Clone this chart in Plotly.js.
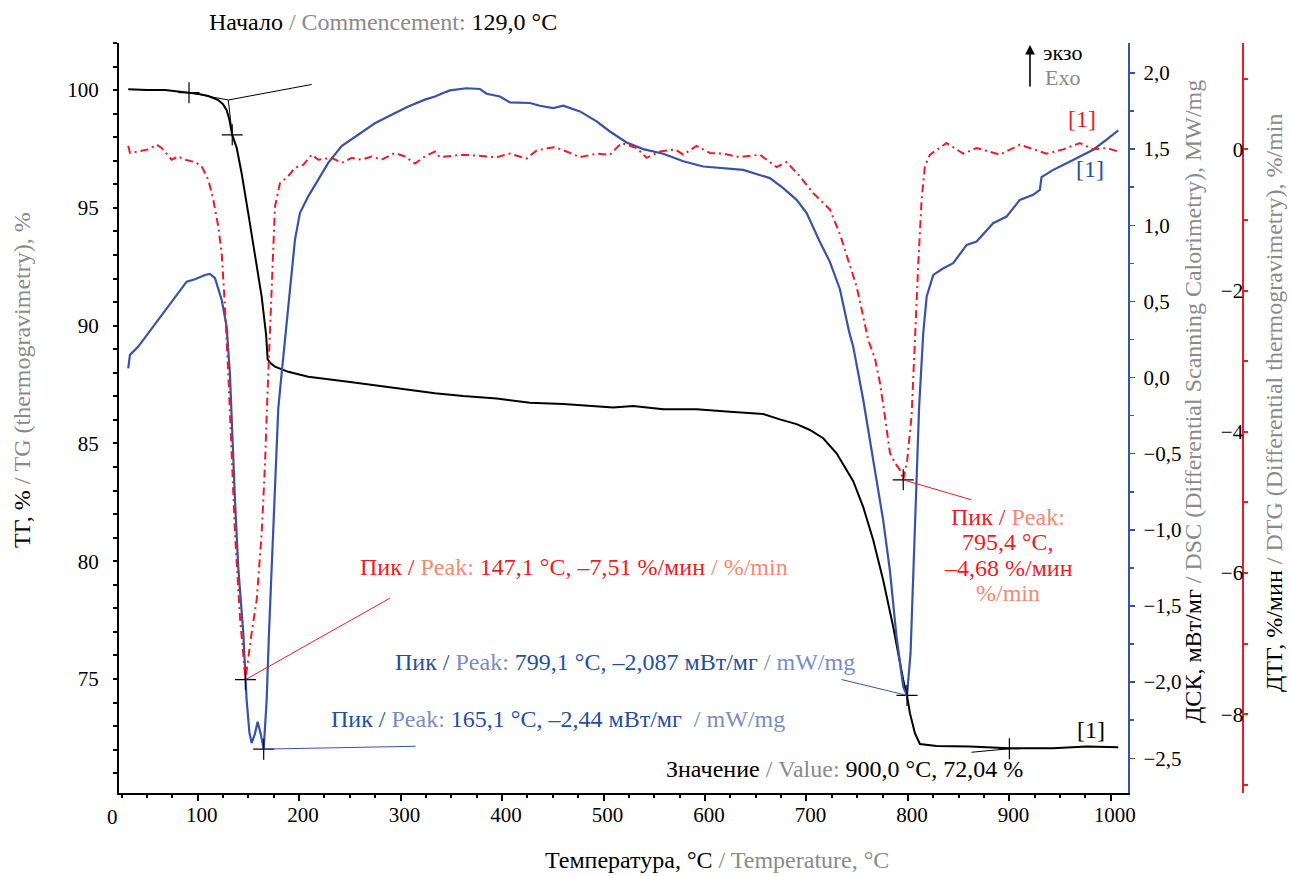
<!DOCTYPE html>
<html>
<head>
<meta charset="utf-8">
<script src="https://cdn.plot.ly/plotly-3.0.1.min.js"></script>
<style>html,body{margin:0;padding:0;background:#fff;}#chart{width:1290px;height:876px;}</style>
</head>
<body>
<div id="chart"></div>
<script>
// ---------- data ----------
// TG, % vs temperature, °C
const tgTemp = [31.6,50,67.8,80,91.5,100,110.5,120.3,125,128.6,131,134.1,138.5,143.4,149.9,156.5,163.1,167.5,169,172,176.2,189.3,209,248.4,297.7,333.9,361.8,394.7,427.5,460.3,509.6,529.3,558.9,591.7,624.6,657.4,673.8,690.3,703.4,716.5,729.7,746.1,755.9,765.8,775.6,785.5,795.4,799.1,802,806.9,811.8,828.3,861,900,943.2,976,1007.3];
const tgValue = [100.04,100.0,100.0,99.95,99.89,99.85,99.75,99.58,99.4,99.15,98.8,98.1,97.55,96.46,94.77,93.07,91.23,89.6,88.57,88.4,88.26,88.04,87.83,87.62,87.34,87.13,87.01,86.91,86.73,86.67,86.53,86.59,86.45,86.45,86.35,86.25,86.02,85.82,85.57,85.22,84.58,83.4,82.31,80.9,79.2,77.22,74.96,74.3,73.55,72.7,72.24,72.16,72.13,72.06,72.06,72.13,72.1];

// DSC, mW/mg
const dscTemp = [31.6,33.3,41.5,51.3,61.2,71,80.9,89.2,97.4,107.2,112.1,117.1,123.7,128.6,131.8,133.5,136.8,140,145,148.3,151,153.2,156.5,159.1,162.1,165.1,168,170.3,172.9,176.2,177.8,179.5,182.8,189.3,195.9,200.8,209,218.9,228.7,241.9,255,274.7,291.2,307.6,324,333.9,342,348.6,365.1,378.2,384.8,397.9,407.8,427.5,437.3,450.4,460.3,476.8,493.2,506.3,522.7,539.2,558.9,578.6,598.3,617.9,637.7,647.5,664,677.1,690.3,700.2,713.3,723.1,733,742.1,746.1,756,762.5,769,775.6,782.2,788.8,795.4,799.1,802.6,805.9,809.2,811,815.1,818.5,825,834.9,844.6,857.9,867.7,884,897.2,910.3,923.4,930,931.7,943.2,956.4,969.5,982.6,995.8,1007.3];
const dscValue = [0.061,0.149,0.203,0.291,0.379,0.466,0.554,0.63,0.646,0.674,0.681,0.653,0.51,0.334,0.028,-0.3,-0.804,-1.243,-1.68,-2.119,-2.33,-2.40,-2.338,-2.26,-2.338,-2.44,-2.119,-1.68,-1.243,-0.804,-0.5,-0.2,0.028,0.466,0.904,1.08,1.19,1.30,1.41,1.52,1.58,1.67,1.726,1.78,1.825,1.846,1.869,1.886,1.90,1.895,1.864,1.846,1.807,1.803,1.785,1.77,1.785,1.748,1.682,1.616,1.544,1.50,1.47,1.42,1.386,1.376,1.364,1.343,1.31,1.244,1.167,1.08,0.89,0.76,0.58,0.3,0.203,-0.147,-0.4,-0.65,-0.936,-1.264,-1.703,-2.032,-2.087,-1.81,-1.155,-0.607,-0.2,0.291,0.532,0.674,0.718,0.751,0.871,0.893,1.014,1.057,1.167,1.20,1.233,1.316,1.364,1.408,1.452,1.496,1.562,1.623];

// DTG, %/min
const dtgTemp = [31.6,33.3,41.5,51.3,59.6,64.5,74.4,80.9,87.5,97.4,104,110.5,115.4,120.3,123.7,126.9,130.2,132.8,136.8,141.7,147.1,153.2,158.2,163.1,166.3,168.6,170.3,172.9,176.2,181.1,189.3,195.9,204.1,212.4,218.9,232,241.9,251.8,261.6,271.5,281.3,294.4,304.3,314.2,324,333.9,338.8,361.8,394.7,407.8,424.2,434.1,452.1,466.9,476.8,493.2,506.3,517.8,532.6,542.5,555.6,570.4,578.6,591.7,604.9,617.9,634.4,654.1,670.6,680.4,693.5,706.7,713.3,723.1,733,742.5,749.4,756,760.9,767.5,772.5,777.3,782.3,787.2,792.1,795.4,799.3,803.6,806.9,810.1,813.5,816.7,821.7,838.1,854.5,867.7,890.6,910.3,936.6,953,969.5,982.6,995.8,1007.3];
const dtgValue = [0.05,-0.05,-0.03,0,0.067,0.02,-0.146,-0.1,-0.146,-0.18,-0.24,-0.43,-0.71,-1.09,-1.47,-2.22,-3.17,-4.11,-5.44,-6.62,-7.51,-6.85,-6.38,-5.44,-4.49,-3.55,-2.93,-1.75,-0.81,-0.48,-0.38,-0.26,-0.22,-0.075,-0.146,-0.12,-0.19,-0.12,-0.146,-0.1,-0.146,-0.05,-0.1,-0.2,-0.1,-0.03,-0.11,-0.075,-0.11,-0.06,-0.13,-0.014,0.034,-0.05,-0.11,-0.06,-0.075,0.09,0.02,-0.12,-0.03,0,-0.075,0.05,-0.05,-0.06,-0.11,-0.075,-0.25,-0.18,-0.38,-0.62,-0.71,-0.85,-1.2,-1.61,-1.94,-2.37,-2.70,-2.96,-3.31,-3.78,-4.30,-4.44,-4.54,-4.68,-4.40,-3.78,-2.60,-1.66,-0.71,-0.24,-0.075,0.09,-0.06,0.02,-0.075,0.067,-0.06,0,0.09,0,0.02,-0.03];

// marked points (from the chart's own labels)
const onsetPointsT = [91.5, 134.1];
const onsetPointsTG = [99.89, 98.1];
const onsetVertex = [130.2, 99.58];
const onsetTangentEnd = [212.4, 100.24];
const valuePoint = [900.0, 72.04];
const valueLeaderEnd = [862.7, 71.89];
const dtgPeaksT = [147.1, 795.4];
const dtgPeaksV = [-7.51, -4.68];
const dtgLeaderEnds = [[289.5, -6.356], [862.7, -4.963]];
const dscPeaksT = [165.1, 799.1];
const dscPeaksV = [-2.44, -2.087];
const dscLeaderEnds = [[314.8, -2.421], [734.6, -1.983]];

// x tick labels
const xTickVals = [100,200,300,400,500,600,700,800,900,1000];

// ---------- style ----------
const FONT = 'Liberation Serif';
const RED = '#ed1c24', SALMON = '#f58a70', DBLUE = '#1f4f9f', LBLUE = '#7a8bc6', GRAY = '#8a8a8a', BLUE = '#3853a4';
const L = 119, R = 47, T = 43, B = 83, W = 1290, H = 876;
const PW = W - L - R, PH = H - T - B;
const px = x => (x - L) / PW;
const py = y => (H - B - y) / PH;
const c = (col, s) => `<span style="color:${col}">${s}</span>`;

const traces = [
  {x: tgTemp, y: tgValue, type: 'scatter', mode: 'lines', line: {color: '#000', width: 2}, xaxis: 'x', yaxis: 'y'},
  {x: dtgTemp, y: dtgValue, type: 'scatter', mode: 'lines', line: {color: RED, width: 2, dash: '8px,4px,2px,4px'}, xaxis: 'x', yaxis: 'y3'},
  {x: dscTemp, y: dscValue, type: 'scatter', mode: 'lines', line: {color: BLUE, width: 2.2}, xaxis: 'x', yaxis: 'y2'},
  {x: onsetPointsT.concat([valuePoint[0]]), y: onsetPointsTG.concat([valuePoint[1]]), type: 'scatter', mode: 'markers',
   marker: {symbol: 'cross-thin', size: 15, line: {color: '#000', width: 1.2}}, yaxis: 'y'},
  {x: dtgPeaksT, y: dtgPeaksV, type: 'scatter', mode: 'markers',
   marker: {symbol: 'cross-thin', size: 15, line: {color: '#000', width: 1.2}}, yaxis: 'y3'},
  {x: dscPeaksT, y: dscPeaksV, type: 'scatter', mode: 'markers',
   marker: {symbol: 'cross-thin', size: 15, line: {color: '#000', width: 1.2}}, yaxis: 'y2'}
];

const shapes = [
  {type: 'line', xref: 'x', yref: 'y', x0: onsetPointsT[0], y0: onsetPointsTG[0], x1: onsetVertex[0], y1: onsetVertex[1], line: {color: '#000', width: 1}},
  {type: 'line', xref: 'x', yref: 'y', x0: onsetVertex[0], y0: onsetVertex[1], x1: onsetTangentEnd[0], y1: onsetTangentEnd[1], line: {color: '#000', width: 1}},
  {type: 'line', xref: 'x', yref: 'y', x0: onsetVertex[0], y0: onsetVertex[1], x1: onsetPointsT[1], y1: onsetPointsTG[1], line: {color: '#000', width: 1}},
  {type: 'line', xref: 'x', yref: 'y', x0: valuePoint[0], y0: valuePoint[1], x1: valueLeaderEnd[0], y1: valueLeaderEnd[1], line: {color: '#000', width: 1}},
  {type: 'line', xref: 'x', yref: 'y3', x0: dtgPeaksT[0], y0: dtgPeaksV[0], x1: dtgLeaderEnds[0][0], y1: dtgLeaderEnds[0][1], line: {color: RED, width: 1}},
  {type: 'line', xref: 'x', yref: 'y3', x0: dtgPeaksT[1], y0: dtgPeaksV[1], x1: dtgLeaderEnds[1][0], y1: dtgLeaderEnds[1][1], line: {color: RED, width: 1}},
  {type: 'line', xref: 'x', yref: 'y2', x0: dscPeaksT[0], y0: dscPeaksV[0], x1: dscLeaderEnds[0][0], y1: dscLeaderEnds[0][1], line: {color: BLUE, width: 1}},
  {type: 'line', xref: 'x', yref: 'y2', x0: dscPeaksT[1], y0: dscPeaksV[1], x1: dscLeaderEnds[1][0], y1: dscLeaderEnds[1][1], line: {color: BLUE, width: 1}}
];

const A = (text, x, y, opts) => Object.assign({text, xref: 'paper', yref: 'paper', x: px(x), y: py(y), showarrow: false,
  font: {family: FONT, size: 24, color: '#000'}, xanchor: 'center', yanchor: 'middle'}, opts || {});

const annotations = [
  // axis titles
  A(c('#000', 'Температура, °C') + c(GRAY, ' / Temperature, °C'), 543, 860, {xanchor: 'left'}),
  A(c('#000', 'ТГ, %') + c(GRAY, ' / TG (thermogravimetry), %'), 22, 380, {textangle: -90}),
  A(c('#000', 'ДСК, мВт/мг') + c(GRAY, ' / DSC (Differential Scanning Calorimetry), MW/mg'), 1193, 402, {textangle: -90}),
  A(c('#000', 'ДТГ, %/мин') + c(GRAY, ' / DTG (Differential thermogravimetry), %/min'), 1274, 403, {textangle: -90}),
  // "0" tick label at the axis corner
  A('0', 112, 817, {font: {family: FONT, size: 21, color: '#000'}}),
  // top note
  A(c('#000', 'Начало') + c(GRAY, ' / Commencement:') + c('#000', ' 129,0 °C'), 207, 22, {xanchor: 'left'}),
  // exo arrow
  {text: '', xref: 'paper', yref: 'paper', x: px(1030), y: py(45), ax: 0, ay: 43, showarrow: true,
   arrowhead: 2, arrowsize: 1.2, arrowwidth: 1.6, arrowcolor: '#000', standoff: 0, startstandoff: 0},
  A('экзо', 1062, 52, {font: {family: FONT, size: 22, color: '#000'}}),
  A('Exo', 1062, 77, {font: {family: FONT, size: 22, color: GRAY}}),
  // series labels
  A('[1]', 1082, 119, {font: {family: FONT, size: 24, color: RED}}),
  A('[1]', 1090, 169, {font: {family: FONT, size: 24, color: DBLUE}}),
  A('[1]', 1091, 730, {font: {family: FONT, size: 24, color: '#000'}}),
  // peak labels
  A(c(RED, 'Пик /') + c(SALMON, ' Peak:') + c(RED, ' 147,1 °C, –7,51 %/мин') + c(SALMON, ' / %/min'), 358, 567, {xanchor: 'left'}),
  A(c(DBLUE, 'Пик /') + c(LBLUE, ' Peak:') + c(DBLUE, ' 799,1 °C, –2,087 мВт/мг') + c(LBLUE, ' / mW/mg'), 393, 662, {xanchor: 'left'}),
  A(c(DBLUE, 'Пик /') + c(LBLUE, ' Peak:') + c(DBLUE, ' 165,1 °C, –2,44 мВт/мг ') + c(LBLUE, ' / mW/mg'), 329, 719, {xanchor: 'left'}),
  A(c(RED, 'Пик /') + c(SALMON, ' Peak:'), 1008, 517),
  A(c(RED, '795,4 °C,'), 1008, 542),
  A(c(RED, '–4,68 %/мин'), 1008, 568),
  A(c(SALMON, '%/min'), 1008, 593),
  A(c('#000', 'Значение') + c(GRAY, ' / Value:') + c('#000', ' 900,0 °C, 72,04 %'), 664, 769, {xanchor: 'left'})
];

const tickFont = {family: FONT, size: 21, color: '#000'};
const layout = {
  width: W, height: H,
  margin: {l: L, r: R, t: T, b: B, pad: 0},
  paper_bgcolor: '#fff', plot_bgcolor: 'rgba(0,0,0,0)',
  showlegend: false, hovermode: false,
  separators: ', ',
  font: {family: FONT, size: 21, color: '#000'},
  xaxis: {
    domain: [0, 1009.3 / PW], range: [22.5, 1017.2],
    tickvals: xTickVals, ticks: 'outside', ticklen: 6, tickwidth: 2, tickcolor: '#000',
    minor: {dtick: 25, tick0: 0, ticks: 'outside', ticklen: 3, tickwidth: 2, tickcolor: '#000', showgrid: false},
    showline: true, linewidth: 2, linecolor: '#000', showgrid: false, zeroline: false,
    tickfont: tickFont, ticklabelstandoff: -4, ticklabelshift: 4
  },
  yaxis: {
    range: [70.16, 102], dtick: 5, tick0: 0, ticks: 'outside', ticklen: 4, tickwidth: 2, tickcolor: '#000',
    minor: {dtick: 1, tick0: 0, ticks: 'outside', ticklen: 4, tickwidth: 2, tickcolor: '#000', showgrid: false},
    showline: true, linewidth: 2, linecolor: '#000', showgrid: false, zeroline: false,
    tickfont: tickFont, ticklabelstandoff: 10
  },
  yaxis2: {
    overlaying: 'y', side: 'right', anchor: 'x',
    range: [-2.728, 2.197], dtick: 0.5, tick0: 0, tickformat: '.1f',
    ticks: 'outside', ticklen: 5, tickwidth: 1.5, tickcolor: BLUE,
    minor: {dtick: 0.25, tick0: 0, ticks: 'outside', ticklen: 4, tickwidth: 1.5, tickcolor: BLUE, showgrid: false},
    showline: true, linewidth: 2, linecolor: BLUE, showgrid: false, zeroline: false,
    tickfont: tickFont, ticklabelstandoff: 4
  },
  yaxis3: {
    overlaying: 'y', side: 'right', anchor: 'free', position: 1,
    range: [-9.115, 1.507], dtick: 2, tick0: 0,
    ticks: 'outside', ticklen: 4, tickwidth: 2, tickcolor: RED,
    minor: {dtick: 1, tick0: 0, ticks: 'outside', ticklen: 4, tickwidth: 2, tickcolor: RED, showgrid: false},
    showline: true, linewidth: 2, linecolor: RED, showgrid: false, zeroline: false,
    ticklabelposition: 'inside', tickfont: tickFont
  },
  shapes: shapes,
  annotations: annotations
};

Plotly.newPlot('chart', traces, layout, {staticPlot: true, displayModeBar: false});
</script>
</body>
</html>
